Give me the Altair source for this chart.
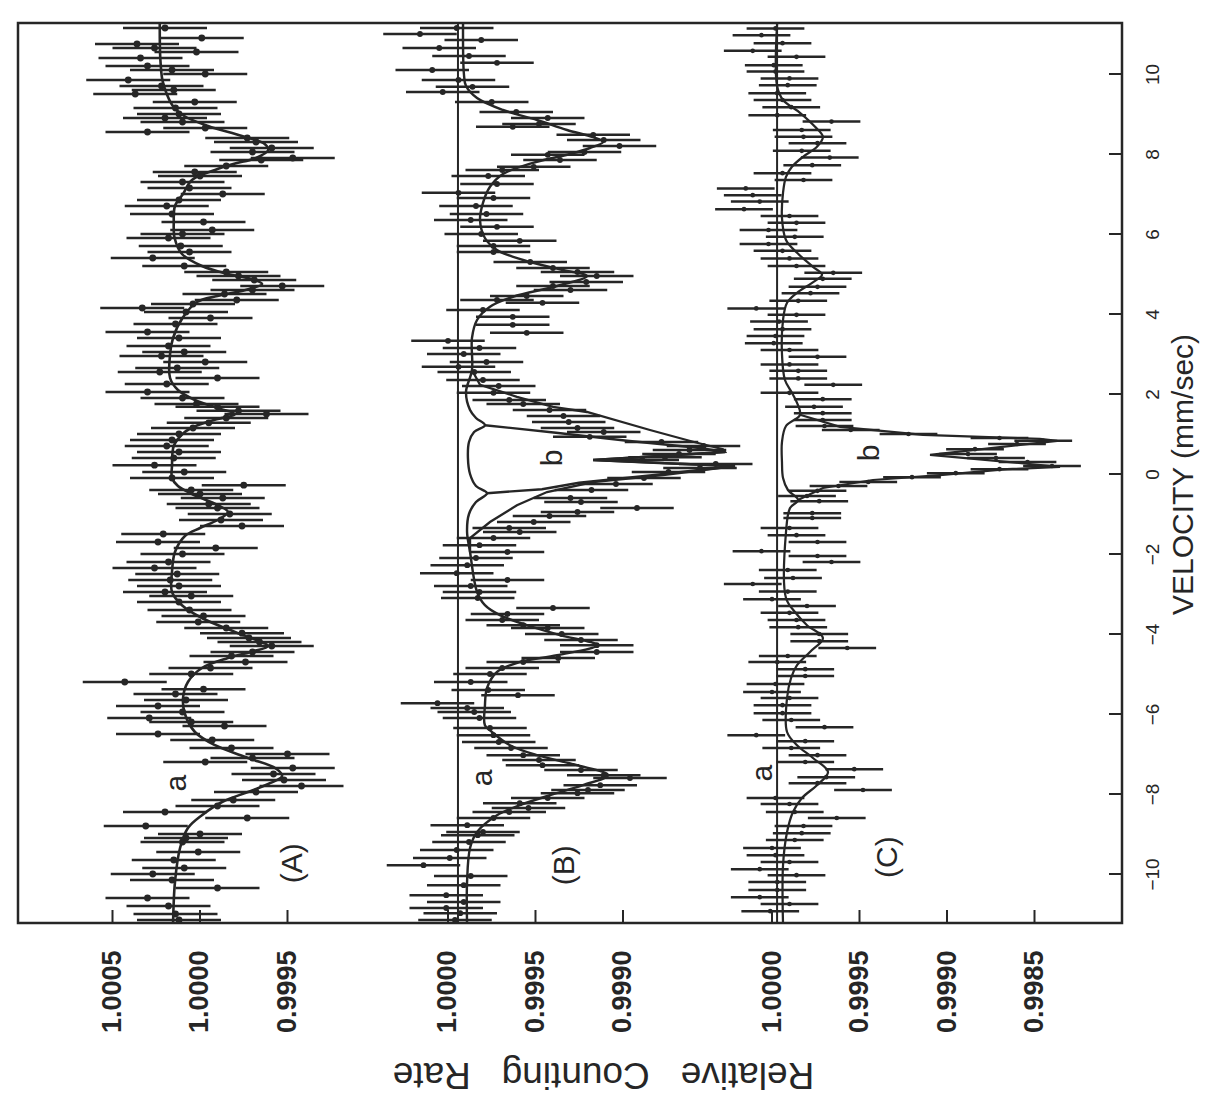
import altair as alt
import pandas as pd

# ---------------- measured points (velocity mm/s, relative counting rate) ----------------
vA = [11.15, 10.9, 10.75, 10.65, 10.55, 10.4, 10.2, 10.1, 10.0, 9.85, 9.7, 9.6, 9.5, 9.3, 9.15,
      9.0, 8.9, 8.8, 8.65, 8.55, 8.4, 8.3, 8.15, 8.05, 7.9, 7.85, 7.7, 7.55, 7.45, 7.3,
      7.15, 7.0, 6.85, 6.7, 6.5, 6.3, 6.1, 6.0, 5.9, 5.7, 5.55, 5.4, 5.2, 5.05, 4.95,
      4.85, 4.7, 4.6, 4.5, 4.35, 4.25, 4.15, 4.05, 3.9, 3.75, 3.55, 3.4, 3.2, 3.05, 2.95,
      2.8, 2.65, 2.55, 2.4, 2.25, 2.05, 1.9, 1.75, 1.68, 1.58, 1.5, 1.4, 1.28, 1.15, 1.0,
      0.85, 0.7, 0.55, 0.4, 0.22, 0.05,
      -0.1, -0.28, -0.4, -0.5, -0.6, -0.75, -0.85, -1.0, -1.15, -1.3, -1.5, -1.7, -1.85, -2.0, -2.2,
      -2.35, -2.5, -2.65, -2.8, -2.95, -3.05, -3.2, -3.4, -3.55, -3.7, -3.85, -3.98, -4.1, -4.2, -4.3,
      -4.45, -4.55, -4.7, -4.85, -5.0, -5.2, -5.38, -5.5, -5.65, -5.8, -5.95, -6.1, -6.2, -6.3, -6.5,
      -6.65, -6.85, -7.0, -7.1, -7.2, -7.35, -7.5, -7.65, -7.8, -7.95, -8.15, -8.3, -8.45, -8.6, -8.8,
      -9.0, -9.1, -9.2, -9.45, -9.65, -9.85, -10.0, -10.15, -10.35, -10.6, -10.8, -11.0, -11.15]
rA = [1.00020, 0.99999, 1.00036, 1.00026, 1.00002, 1.00034, 1.00030, 1.00016, 0.99997, 1.00041,
      1.00022, 1.00015, 1.00037, 1.00003, 1.00014, 1.00012, 1.00020, 1.00010, 0.99997, 1.00030,
      0.99973, 0.99968, 0.99959, 0.99970, 0.99947, 0.99965, 0.99985, 1.00003, 1.00000, 1.00010,
      1.00006, 0.99987, 1.00012, 1.00019, 1.00016, 0.99998, 0.99993, 1.00010, 1.00018, 1.00011,
      1.00006, 1.00027, 1.00009, 0.99985, 0.99978, 0.99969, 0.99953, 0.99970, 0.99986, 0.99979,
      1.00004, 1.00033, 1.00008, 0.99994, 1.00014, 1.00030, 1.00012, 1.00018, 1.00009, 1.00022,
      0.99997, 1.00013, 1.00023, 0.99990, 1.00019, 1.00030, 1.00010, 1.00002, 0.99990, 0.99978,
      0.99962, 0.99985, 0.99995, 1.00004, 1.00012, 1.00016, 1.00019, 1.00012, 1.00015, 1.00026,
      1.00009,
      1.00016, 0.99975, 1.00005, 1.00000, 0.99987, 0.99995, 0.99990, 0.99983, 0.99988, 0.99976,
      1.00021, 1.00024, 0.99991, 1.00010, 1.00018, 1.00026, 1.00013, 1.00017, 1.00012, 1.00020,
      1.00005, 1.00012, 1.00006, 0.99998, 1.00001, 0.99985, 0.99976, 0.99972, 0.99966, 0.99959,
      0.99970, 0.99982, 0.99974, 0.99994, 1.00005, 1.00043, 0.99998, 1.00014, 1.00008, 1.00024,
      1.00010, 1.00029, 1.00005, 0.99986, 1.00024, 0.99993, 0.99982, 0.99950, 0.99970, 0.99997,
      0.99947, 0.99958, 0.99952, 0.99942, 0.99968, 0.99981, 0.99990, 1.00020, 0.99973, 1.00031,
      1.00000, 1.00008, 1.00010, 1.00001, 1.00015, 1.00009, 1.00027, 1.00016, 0.99990, 1.00030,
      1.00018, 1.00014, 1.00012]

vB = [11.15, 11.0, 10.85, 10.65, 10.45, 10.28, 10.1, 9.85, 9.68, 9.55, 9.3, 9.05, 8.9, 8.75, 8.68,
      8.48, 8.35, 8.2, 8.05, 7.98, 7.85, 7.68, 7.6, 7.45, 7.25, 7.03, 6.9, 6.7, 6.5, 6.35,
      6.18, 6.0, 5.83, 5.7, 5.55, 5.3, 5.15, 5.05, 4.95, 4.8, 4.7, 4.6, 4.45, 4.35, 4.28,
      4.1, 3.93, 3.73, 3.53, 3.33, 3.15, 3.0, 2.8, 2.68, 2.55, 2.35, 2.2, 2.03, 1.85, 1.75,
      1.6, 1.45, 1.3, 1.15, 1.05, 0.93, 0.8, 0.7, 0.6, 0.5, 0.42, 0.35, 0.25, 0.15, 0.05,
      -0.1, -0.25, -0.4, -0.6, -0.7, -0.85, -0.95, -1.05, -1.2, -1.35, -1.45, -1.6, -1.78, -1.95, -2.1,
      -2.28, -2.48, -2.65, -2.8, -2.95, -3.1, -3.35, -3.5, -3.65, -3.78, -3.85, -4.0, -4.15, -4.28, -4.45,
      -4.6, -4.7, -4.85, -5.0, -5.2, -5.4, -5.53, -5.73, -5.85, -5.95, -6.1, -6.35, -6.53, -6.7, -6.85,
      -7.03, -7.15, -7.28, -7.4, -7.53, -7.6, -7.78, -7.9, -7.98, -8.1, -8.23, -8.35, -8.45, -8.6, -8.78,
      -8.95, -9.03, -9.2, -9.4, -9.6, -9.78, -10.05, -10.28, -10.53, -10.7, -10.85, -10.98, -11.15]
rB = [0.99995, 1.00016, 0.99981, 1.00005, 0.99988, 0.99972, 1.00009, 0.99994, 0.99986, 1.00003,
      0.99975, 0.99961, 0.99943, 0.99948, 0.99963, 0.99917, 0.99911, 0.99902, 0.99922, 0.99943,
      0.99936, 0.99951, 0.99969, 0.99977, 0.99972, 0.99994, 0.99974, 0.99984, 0.99978, 0.99987,
      0.99972, 0.99981, 0.99959, 0.99974, 0.99974, 0.99953, 0.99940, 0.99926, 0.99915, 0.99921,
      0.99940, 0.99930, 0.99955, 0.99972, 0.99946, 0.99980, 0.99963, 0.99963, 0.99955, 1.00000,
      0.99982, 0.99991, 0.99978, 0.99994, 0.99985, 0.99980, 0.99971, 0.99974, 0.99965, 0.99957,
      0.99942, 0.99934, 0.99931, 0.99926, 0.99911, 0.99919, 0.99878, 0.99854, 0.99862, 0.99868,
      0.99876, 0.99889, 0.99847, 0.99856, 0.99874,
      0.99888, 0.99904, 0.99918, 0.99930, 0.99924, 0.99892, 0.99926, 0.99942, 0.99951, 0.99965,
      0.99959, 0.99974, 0.99982, 0.99966, 0.99984, 0.99989, 0.99995, 0.99966, 0.99987, 0.99982,
      0.99983, 0.99940, 0.99966, 0.99969, 0.99957, 0.99943, 0.99935, 0.99924, 0.99915, 0.99915,
      0.99937, 0.99957, 0.99969, 0.99976, 0.99987, 0.99977, 0.99960, 1.00006, 0.99989, 0.99985,
      0.99982, 0.99976, 0.99974, 0.99971, 0.99964, 0.99957, 0.99948, 0.99946, 0.99924, 0.99911,
      0.99896, 0.99913, 0.99920, 0.99926, 0.99943, 0.99959, 0.99954, 0.99965, 0.99974, 0.99989,
      0.99980, 0.99983, 0.99988, 0.99995, 0.99999, 1.00014, 0.99987, 0.99991, 1.00001, 0.99991,
      1.00001, 0.99993, 0.99996]

vC = [11.14, 10.97, 10.77, 10.58, 10.43, 10.22, 10.06, 9.89, 9.72, 9.52, 9.35, 9.17, 8.97, 8.81, 8.6,
      8.43, 8.27, 8.08, 7.91, 7.72, 7.52, 7.35, 7.14, 6.97, 6.81, 6.62, 6.45, 6.28, 6.1, 5.93,
      5.75, 5.58, 5.39, 5.2, 5.03, 4.88, 4.68, 4.52, 4.33, 4.14, 3.98, 3.81, 3.62, 3.45, 3.27,
      3.1, 2.93, 2.74, 2.58, 2.39, 2.23, 2.03, 1.87, 1.68, 1.52, 1.35, 1.2, 1.1, 1.0, 0.9,
      0.83, 0.75, 0.62, 0.5, 0.4, 0.3, 0.2, 0.12, 0.02,
      -0.08, -0.2, -0.3, -0.42, -0.55, -0.68, -0.98, -1.1, -1.35, -1.53, -1.7, -1.93, -2.05, -2.2, -2.4,
      -2.6, -2.75, -2.94, -3.13, -3.3, -3.47, -3.65, -3.83, -4.0, -4.18, -4.35, -4.55, -4.7, -4.88, -5.05,
      -5.25, -5.45, -5.6, -5.78, -5.98, -6.15, -6.33, -6.53, -6.68, -6.85, -7.03, -7.2, -7.38, -7.58, -7.73,
      -7.9, -8.1, -8.25, -8.45, -8.6, -8.8, -8.98, -9.15, -9.35, -9.53, -9.7, -9.88, -10.03, -10.2, -10.4,
      -10.58, -10.75, -10.93]
rC = [0.99998, 1.00006, 0.99994, 1.00011, 0.99986, 0.99999, 0.99998, 0.99990, 0.99991, 0.99997,
      0.99994, 0.99989, 0.99997, 0.99966, 0.99983, 0.99982, 0.99974, 0.99983, 0.99967, 0.99977,
      0.99994, 0.99982, 1.00015, 1.00011, 1.00007, 1.00016, 0.99990, 0.99986, 1.00002, 0.99987,
      1.00002, 0.99994, 0.99990, 0.99986, 0.99965, 0.99971, 0.99974, 0.99978, 0.99985, 1.00009,
      0.99986, 0.99996, 0.99994, 0.99998, 0.99999, 0.99990, 0.99974, 0.99990, 0.99985, 0.99985,
      0.99965, 0.99990, 0.99971, 0.99976, 0.99971, 0.99971, 0.99970, 0.99955, 0.99922, 0.99870,
      0.99845, 0.99860, 0.99884, 0.99888, 0.99872, 0.99854, 0.99840, 0.99870, 0.99895,
      0.99920, 0.99945, 0.99962, 0.99974, 0.99980, 0.99973, 0.99977, 0.99977, 0.99990, 0.99986,
      0.99974, 1.00006, 0.99974, 0.99966, 0.99991, 0.99988, 1.00011, 0.99991, 1.00000, 0.99980,
      0.99990, 0.99986, 0.99985, 0.99973, 0.99973, 0.99957, 0.99991, 0.99997, 0.99981, 0.99981,
      0.99998, 1.00000, 0.99990, 0.99994, 0.99994, 0.99989, 0.99970, 1.00009, 0.99981, 0.99989,
      0.99974, 0.99981, 0.99953, 0.99969, 0.99974, 0.99948, 0.99998, 0.99990, 0.99987, 0.99963,
      0.99982, 0.99983, 0.99987, 1.00000, 0.99998, 0.99990, 1.00007, 0.99986, 0.99997, 0.99997,
      1.00007, 0.99990, 1.00001]

# statistical error (half length of the bars) for each spectrum
errA, errB, errC = 0.00024, 0.00021, 0.000165

# ---------------- fitted curves ----------------
fitA_v = [11.25, 10.4, 9.85, 9.5, 9.2, 8.95, 8.7, 8.45, 8.25, 8.1, 7.9, 7.75, 7.6, 7.35, 7.0,
          6.7, 6.3, 5.9, 5.5, 5.2, 5.0, 4.88, 4.75, 4.6, 4.45, 4.3, 3.9, 3.4, 3.0, 2.4,
          2.1, 1.85, 1.65, 1.5, 1.35, 1.15, 1.0, 0.7, 0.2, -0.1, -0.3, -0.5, -0.78, -0.95, -1.15,
          -1.35, -1.55, -1.95, -2.45, -2.95, -3.28, -3.6, -3.95, -4.15, -4.3, -4.45, -4.6, -4.85, -5.2, -5.6,
          -6.0, -6.45, -6.78, -7.1, -7.35, -7.55, -7.75, -7.95, -8.2, -8.53, -8.85, -9.35, -10.2, -11.25]
fitA_r = [1.000230, 1.000227, 1.000215, 1.000190, 1.000155, 1.000090, 0.999954, 0.999760, 0.999630, 0.999610,
          0.999680, 0.999810, 0.999914, 1.000046, 1.000097, 1.000143, 1.000150, 1.000145, 1.000103, 0.999989,
          0.999840, 0.999710, 0.999645, 0.999740, 0.999900, 1.000017, 1.000100, 1.000154, 1.000171, 1.000171,
          1.000126, 1.000029, 0.999900, 0.999800, 0.999920, 1.000050, 1.000100, 1.000150, 1.000160, 1.000160,
          1.000126, 1.000046, 0.999897, 0.999840, 0.999900, 1.000000, 1.000086, 1.000143, 1.000160, 1.000160,
          1.000103, 0.999989, 0.999800, 0.999680, 0.999610, 0.999710, 0.999840, 0.999989, 1.000069, 1.000097,
          1.000086, 1.000029, 0.999914, 0.999726, 0.999571, 0.999531, 0.999610, 0.999726, 0.999874, 0.999989,
          1.000069, 1.000114, 1.000143, 1.000154]

fitBa_v = [11.25, 10.0, 9.7, 9.4, 9.1, 8.85, 8.6, 8.42, 8.3, 8.15, 8.0, 7.78, 7.5, 7.18, 6.78,
           6.35, 5.9, 5.6, 5.35, 5.1, 4.95, 4.7, 4.43, 4.18, 3.85, 3.4, 2.6, 2.05, 1.6, 1.4,
           1.22, 1.05, 0.8, 0.4, 0.0, -0.3, -0.48, -0.7, -1.0, -1.45, -1.95, -2.95, -3.28, -3.53, -3.78,
           -4.03, -4.28, -4.53, -4.7, -4.95, -5.35, -5.8, -6.28, -6.45, -6.78, -7.03, -7.28, -7.53, -7.78, -8.03,
           -8.28, -8.53, -8.95, -9.35, -10.2, -11.25]
fitBa_r = [0.999914, 0.999909, 0.999897, 0.999834, 0.999686, 0.999491, 0.999320, 0.999170, 0.999114, 0.999189,
           0.999303, 0.999514, 0.999686, 0.999760, 0.999800, 0.999817, 0.999789, 0.999720, 0.999571, 0.999343,
           0.999206, 0.999377, 0.999629, 0.999760, 0.999834, 0.999863, 0.999863, 0.999897, 0.999874, 0.999840,
           0.999789, 0.999851, 0.999880, 0.999886, 0.999874, 0.999840, 0.999777, 0.999840, 0.999880, 0.999891,
           0.999874, 0.999834, 0.999789, 0.999703, 0.999549, 0.999360, 0.999149, 0.999377, 0.999589, 0.999720,
           0.999777, 0.999789, 0.999789, 0.999749, 0.999646, 0.999491, 0.999263, 0.999086, 0.999229, 0.999417,
           0.999589, 0.999720, 0.999834, 0.999874, 0.999891, 0.999891]

fitBb_v = [1.22, 1.03, 0.83, 0.65, 0.55, 0.45, 0.35, 0.27, 0.2, -0.03, -0.22, -0.38, -0.48]
fitBb_r = [0.999789, 0.999383, 0.998977, 0.998560, 0.998417, 0.998789, 0.999171, 0.998760, 0.998360,
           0.998834, 0.999251, 0.999463, 0.999777]

fitBt_v = [2.6, 2.23, 1.93, 1.68, 1.55, 1.1, 0.8, 0.62, 0.55, 0.45, 0.35, 0.27, 0.2, -0.03, -0.2,
           -0.45, -0.78, -1.2, -1.6, -1.95]
fitBt_r = [0.999863, 0.999817, 0.999606, 0.999400, 0.999206, 0.998846, 0.998594, 0.998429, 0.998417, 0.998789,
           0.999171, 0.998760, 0.998360, 0.998771, 0.999171, 0.999434, 0.999606, 0.999760, 0.999874, 0.999874]

fitCa_v = [11.25, 9.7, 9.35, 9.03, 8.68, 8.43, 8.18, 7.93, 7.68, 7.43, 7.03, 6.4, 5.85, 5.53, 5.18,
           4.98, 4.78, 4.53, 4.28, 3.85, 3.0, 2.35, 2.03, 1.78, 1.48, 1.2, 0.8, 0.3, -0.1, -0.4,
           -0.65, -0.85, -1.45, -3.1, -3.45, -3.78, -4.1, -4.45, -4.78, -5.1, -5.6, -6.45, -6.78, -7.1, -7.45,
           -7.78, -8.1, -8.45, -8.95, -9.78, -11.25]
fitCa_r = [0.999971, 0.999971, 0.999937, 0.999840, 0.999754, 0.999709, 0.999743, 0.999823, 0.999886, 0.999920,
           0.999937, 0.999943, 0.999920, 0.999857, 0.999766, 0.999714, 0.999771, 0.999857, 0.999914, 0.999937,
           0.999943, 0.999926, 0.999886, 0.999857, 0.999840, 0.999920, 0.999943, 0.999943, 0.999937, 0.999909,
           0.999851, 0.999897, 0.999920, 0.999920, 0.999869, 0.999800, 0.999709, 0.999783, 0.999857, 0.999891,
           0.999914, 0.999914, 0.999857, 0.999766, 0.999680, 0.999743, 0.999829, 0.999880, 0.999914, 0.999937,
           0.999937]

fitCb_v = [1.48, 1.18, 0.98, 0.88, 0.83, 0.48, 0.18, 0.12, -0.03, -0.15, -0.35, -0.65]
fitCb_r = [0.999840, 0.999611, 0.999137, 0.998470, 0.998370, 0.999097, 0.998354, 0.998657, 0.999040,
           0.999423, 0.999709, 0.999851]

# background levels drawn as straight lines
base_panels = ["B", "C"]
base_rates = [0.999943, 0.999971]

# annotations
lab_text = ["(A)", "a", "(B)", "a", "b", "(C)", "a", "b"]
lab_panel = ["A", "A", "B", "B", "B", "C", "C", "C"]
lab_rate = [0.99947, 1.00013, 0.99933, 0.99980, 0.99940, 0.99934, 1.00005, 0.99944]
lab_v = [-9.73, -7.73, -9.78, -7.6, 0.4, -9.58, -7.48, 0.53]

# axis tick labels
tick_panel = ["A", "A", "A", "B", "B", "B", "C", "C", "C", "C"]
tick_rate = [1.0005, 1.0000, 0.9995, 1.0000, 0.9995, 0.9990, 1.0000, 0.9995, 0.9990, 0.9985]
vel_ticks = [-10, -8, -6, -4, -2, 0, 2, 4, 6, 8, 10]

# ---------------- layout of the three stacked spectra ----------------
OFF = {"A": 10.4, "B": 24.571, "C": 43.086}   # horizontal offset of each spectrum
W, H = 1104, 900
XDOM = [0, 63.086]
YDOM = [-11.225, 11.275]
INK = "#262626"
FONT = "Liberation Sans"


def frame(panel, vs, rs, **extra):
    if len(vs) != len(rs):
        raise ValueError(f"length mismatch in {panel}: {len(vs)} vs {len(rs)}")
    d = pd.DataFrame({"v": vs, "rate": rs})
    d["panel"] = panel
    for k, val in extra.items():
        d[k] = val
    return d


pts = pd.concat([frame("A", vA, rA, err=errA), frame("B", vB, rB, err=errB),
                 frame("C", vC, rC, err=errC)], ignore_index=True)

fits = pd.concat([frame("A", fitA_v, fitA_r, curve="A"),
                  frame("B", fitBa_v, fitBa_r, curve="Ba"),
                  frame("B", fitBb_v, fitBb_r, curve="Bb"),
                  frame("B", fitBt_v, fitBt_r, curve="Bt"),
                  frame("C", fitCa_v, fitCa_r, curve="Ca"),
                  frame("C", fitCb_v, fitCb_r, curve="Cb")], ignore_index=True)
smooth = fits[fits.curve.isin(["A", "Ba", "Ca"])]
sharp = fits[fits.curve.isin(["Bb", "Bt", "Cb"])]

bases = pd.DataFrame({"panel": base_panels, "rate": base_rates})
labs = pd.DataFrame({"label": lab_text, "panel": lab_panel, "rate": lab_rate, "v": lab_v})

tick_pos = [round(OFF[p] + (1 - r) * 1e4, 4) for p, r in zip(tick_panel, tick_rate)]
ticks_df = pd.DataFrame({"pos": tick_pos})
vt_df = pd.DataFrame({"v": vel_ticks})

label_expr = " : ".join(
    f"abs(datum.value - {p}) < 0.01 ? '{r:.4f}'" for p, r in zip(tick_pos, tick_rate)) + " : ''"

OFFX = f"(datum.panel == 'A' ? {OFF['A']} : datum.panel == 'B' ? {OFF['B']} : {OFF['C']})"
POS = f"{OFFX} + (1 - datum.rate) * 10000"

xs = alt.Scale(domain=XDOM, nice=False, zero=False)
ys = alt.Scale(domain=YDOM, nice=False, zero=False)

xaxis = alt.Axis(orient="bottom", values=tick_pos, labelExpr=label_expr, labelAngle=270,
                 labelAlign="right", labelBaseline="middle", labelPadding=27, labelFontSize=27,
                 labelFontWeight="bold", labelFont=FONT, labelColor=INK, labelOverlap=False,
                 labelFlush=False, ticks=False, tickSize=0, domain=False, grid=False,
                 title="Relative\u00a0\u00a0\u00a0Counting\u00a0\u00a0\u00a0Rate",
                 titleAngle=180, titleFontSize=37, titleFontWeight="normal", titleFont=FONT,
                 titleColor=INK, titleX=585, titleY=150, titleAlign="center",
                 titleBaseline="middle")
yaxis = alt.Axis(orient="right", values=vel_ticks, labelAngle=270, labelAlign="center",
                 labelBaseline="middle", labelPadding=30, labelFontSize=19, labelFont=FONT,
                 labelColor=INK, labelOverlap=False, labelFlush=False, ticks=False, tickSize=0,
                 domain=False, grid=False, title="VELOCITY (mm/sec)", titleAngle=270,
                 titleFontSize=30, titleFontWeight="normal", titleFont=FONT, titleColor=INK,
                 titleX=61, titleY=451, titleAlign="center", titleBaseline="middle")


def X(field):
    return alt.X(f"{field}:Q", scale=xs, axis=xaxis)


Y = alt.Y("v:Q", scale=ys, axis=yaxis)

bars = alt.Chart(pts).transform_calculate(
    lo=f"{OFFX} + (1 - datum.rate - datum.err) * 10000",
    hi=f"{OFFX} + (1 - datum.rate + datum.err) * 10000",
).mark_rule(color=INK).encode(
    x=X("lo"), x2="hi:Q", y=Y,
    strokeWidth=alt.StrokeWidth("panel:N", scale=alt.Scale(domain=["A", "B", "C"],
                                                           range=[2.6, 2.2, 1.4]), legend=None),
)

dots = alt.Chart(pts).transform_calculate(pos=POS).mark_circle(color=INK, opacity=1).encode(
    x=X("pos"), y=Y,
    size=alt.Size("panel:N", scale=alt.Scale(domain=["A", "B", "C"], range=[46, 22, 6]),
                  legend=None),
)

curve_w = alt.Scale(domain=["A", "Ba", "Bb", "Bt", "Ca", "Cb"], range=[3.0, 2.5, 2.3, 2.3, 2.0, 1.8])

smooth_lines = alt.Chart(smooth).transform_calculate(pos=POS).mark_line(
    color=INK, interpolate="catmull-rom").encode(
    x=X("pos"), y=Y, detail="curve:N", order=alt.Order("v:Q", sort="descending"),
    strokeWidth=alt.StrokeWidth("curve:N", scale=curve_w, legend=None),
)

sharp_lines = alt.Chart(sharp).transform_calculate(pos=POS).mark_line(
    color=INK, interpolate="linear").encode(
    x=X("pos"), y=Y, detail="curve:N", order=alt.Order("v:Q", sort="descending"),
    strokeWidth=alt.StrokeWidth("curve:N", scale=curve_w, legend=None),
)

baselines = alt.Chart(bases).transform_calculate(pos=POS).mark_rule(
    color=INK, strokeWidth=2).encode(x=X("pos"))

texts = alt.Chart(labs).transform_calculate(pos=POS).mark_text(
    angle=270, fontSize=30, font=FONT, color=INK, align="center", baseline="middle").encode(
    x=X("pos"), y=Y, text="label:N")

bottom_ticks = alt.Chart(ticks_df).mark_rule(color=INK, strokeWidth=2).encode(
    x=X("pos"), y=alt.value(H), y2=alt.value(H - 13))

right_ticks = alt.Chart(vt_df).mark_rule(color=INK, strokeWidth=2).encode(
    y=Y, x=alt.value(W - 13), x2=alt.value(W))

chart = alt.layer(
    baselines, bars, dots, smooth_lines, sharp_lines, texts, bottom_ticks, right_ticks
).properties(
    width=W, height=H,
    padding={"left": 10, "top": 10, "right": 5, "bottom": 5},
).configure(background="white").configure_view(stroke=INK, strokeWidth=2.5)

chart.save("out.html", embed_options={"renderer": "svg", "actions": False})
